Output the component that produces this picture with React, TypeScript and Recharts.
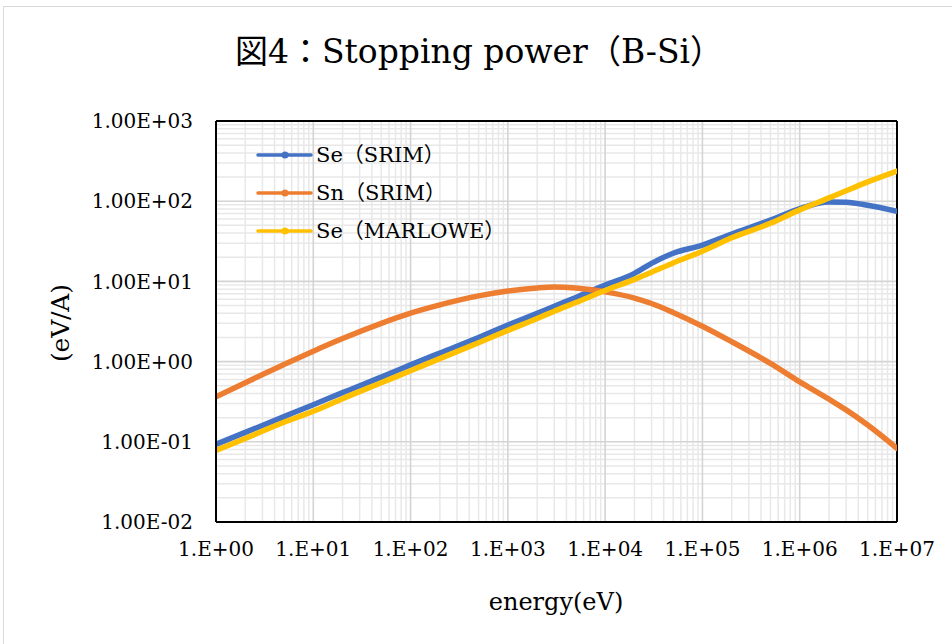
import React from 'react';
import { LineChart, Line, XAxis, YAxis, CartesianGrid, ReferenceLine } from 'recharts';

// energy (eV) and stopping power (eV/A)
const energy = [1, 2, 5, 10, 20, 50, 100, 200, 500, 1e3, 2e3, 3e3, 5e3, 1e4, 2e4, 3e4, 5e4, 1e5, 2e5, 5e5, 1e6, 2e6, 3e6, 5e6, 1e7];
const seSrim = [0.093, 0.131, 0.206, 0.29, 0.41, 0.64, 0.91, 1.28, 2.0, 2.85, 4.0, 4.9, 6.3, 9.0, 12.6, 16.8, 22.4, 28.4, 39, 58, 81, 98, 97, 89, 75];
const snSrim = [0.365, 0.546, 0.92, 1.35, 1.94, 3.0, 4.02, 5.1, 6.6, 7.59, 8.3, 8.51, 8.27, 7.4, 6.2, 5.3, 4.1, 2.76, 1.77, 0.95, 0.56, 0.34, 0.25, 0.162, 0.083];
const seMarlowe = [0.078, 0.11, 0.175, 0.24, 0.345, 0.545, 0.77, 1.09, 1.72, 2.45, 3.45, 4.25, 5.45, 7.7, 10.6, 13, 17, 23.8, 35, 53, 78, 110, 135, 174, 238];

const xTicks = [1, 1e1, 1e2, 1e3, 1e4, 1e5, 1e6, 1e7];
const yTicks = [1e-2, 1e-1, 1, 1e1, 1e2, 1e3];

const seriesNames = ['Se（SRIM）', 'Sn（SRIM）', 'Se（MARLOWE）'];
const seriesColors = ['#4472C4', '#ED7D31', '#FFC000'];

const data = energy.map((e, i) => ({
    energy: e,
    seSrim: seSrim[i],
    snSrim: snSrim[i],
    seMarlowe: seMarlowe[i],
}));

// minor grid at 2..9 inside each decade
const minorOf = (ticks: number[]) =>
    ticks.slice(0, -1).flatMap((t) => [2, 3, 4, 5, 6, 7, 8, 9].map((d) => d * t));
const xMinor = minorOf(xTicks);
const yMinor = minorOf(yTicks);

const lg = Math.log10;

// grid positions: use the axis scale when we get one, else place on the log range of the plot box
const gridX = (values: number[]) => ({ xAxis, offset }: any) => {
    const s = xAxis && xAxis.scale;
    let out: number[] = [];
    if (typeof s === 'function') out = values.map((v) => s(v));
    else if (s && typeof s.map === 'function') out = values.map((v) => s.map(v));
    out = out.filter((p) => Number.isFinite(p));
    if (out.length === values.length) return out;
    const lo = lg(xTicks[0]);
    const hi = lg(xTicks[xTicks.length - 1]);
    return values.map((v) => offset.left + (offset.width * (lg(v) - lo)) / (hi - lo));
};

const gridY = (values: number[]) => ({ yAxis, offset }: any) => {
    const s = yAxis && yAxis.scale;
    let out: number[] = [];
    if (typeof s === 'function') out = values.map((v) => s(v));
    else if (s && typeof s.map === 'function') out = values.map((v) => s.map(v));
    out = out.filter((p) => Number.isFinite(p));
    if (out.length === values.length) return out;
    const lo = lg(yTicks[0]);
    const hi = lg(yTicks[yTicks.length - 1]);
    return values.map((v) => offset.top + (offset.height * (hi - lg(v))) / (hi - lo));
};

const FONT = '"DejaVu Serif", "Noto Sans CJK JP", serif';

const expText = (v: number) => {
    const e = Math.round(Math.log10(v));
    return (e < 0 ? '-' : '+') + String(Math.abs(e)).padStart(2, '0');
};

export default function App() {
    return (
        <div style={{ position: 'absolute', left: 0, top: 0, width: 952, height: 644, overflow: 'hidden', background: '#fff' }}>
            <div style={{ position: 'absolute', left: 3, top: 6, width: 960, height: 660, border: '1px solid #d9d9d9' }} />
            <LineChart width={952} height={644} data={data} margin={{ top: 121, right: 55, bottom: 0, left: 0 }}>
                <CartesianGrid
                    horizontalCoordinatesGenerator={gridY(yMinor)}
                    verticalCoordinatesGenerator={gridX(xMinor)}
                    stroke="#e8e8e8"
                    strokeWidth={1.5}
                    fill="none"
                />
                <CartesianGrid
                    horizontalCoordinatesGenerator={gridY(yTicks)}
                    verticalCoordinatesGenerator={gridX(xTicks)}
                    stroke="#d4d4d4"
                    strokeWidth={1.6}
                    fill="none"
                />
                <XAxis
                    dataKey="energy"
                    type="number"
                    scale="log"
                    domain={[1, 1e7]}
                    ticks={xTicks}
                    allowDataOverflow
                    height={122}
                    tickLine={false}
                    tickSize={0}
                    tickMargin={20}
                    axisLine={{ stroke: '#000', strokeWidth: 2 }}
                    tick={{ fontFamily: FONT, fontSize: 20, fill: '#000' }}
                    tickFormatter={(v: number) => '1.E' + expText(v)}
                />
                <YAxis
                    type="number"
                    scale="log"
                    domain={[0.01, 1000]}
                    ticks={yTicks}
                    allowDataOverflow
                    width={216}
                    tickLine={false}
                    tickSize={0}
                    tickMargin={23}
                    axisLine={{ stroke: '#000', strokeWidth: 2 }}
                    tick={{ fontFamily: FONT, fontSize: 20, fill: '#000' }}
                    tickFormatter={(v: number) => '1.00E' + expText(v)}
                />
                <ReferenceLine x={1e7} stroke="#000" strokeWidth={2} />
                <ReferenceLine y={1000} stroke="#000" strokeWidth={2} />
                <Line
                    type="monotone"
                    dataKey="seSrim"
                    stroke={seriesColors[0]}
                    strokeWidth={5.5}
                    strokeLinecap="round"
                    dot={false}
                    isAnimationActive={false}
                />
                <Line
                    type="monotone"
                    dataKey="snSrim"
                    stroke={seriesColors[1]}
                    strokeWidth={5.5}
                    strokeLinecap="round"
                    dot={false}
                    isAnimationActive={false}
                />
                <Line
                    type="monotone"
                    dataKey="seMarlowe"
                    stroke={seriesColors[2]}
                    strokeWidth={5.5}
                    strokeLinecap="round"
                    dot={false}
                    isAnimationActive={false}
                />
            </LineChart>
            <svg width={952} height={644} style={{ position: 'absolute', left: 0, top: 0, pointerEvents: 'none' }}>
                <text x={479} y={63} textAnchor="middle" fontFamily={FONT} fontSize={33} fill="#000">
                    図4：Stopping power（B-Si）
                </text>
                <text x={556} y={610} textAnchor="middle" fontFamily={FONT} fontSize={24} fill="#000">
                    energy(eV)
                </text>
                <text
                    transform="translate(60,323) rotate(-90)"
                    x={0}
                    y={9}
                    textAnchor="middle"
                    fontFamily={FONT}
                    fontSize={25}
                    textLength={78}
                    lengthAdjust="spacing"
                    fill="#000"
                >
                    (eV/A)
                </text>
                {seriesNames.map((name, i) => {
                    const cy = 155 + i * 38;
                    return (
                        <g key={name}>
                            <line x1={258} y1={cy} x2={311} y2={cy} stroke={seriesColors[i]} strokeWidth={3.5} strokeLinecap="round" />
                            <circle cx={285} cy={cy} r={3.5} fill={seriesColors[i]} />
                            <text x={316} y={cy + 7} fontFamily={FONT} fontSize={21} fill="#000">
                                {name}
                            </text>
                        </g>
                    );
                })}
            </svg>
        </div>
    );
}
